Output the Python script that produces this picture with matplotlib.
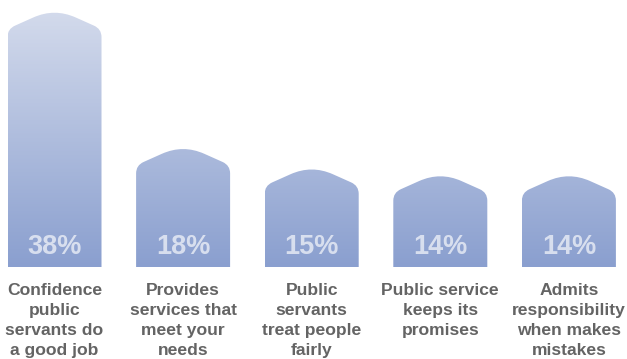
import numpy as np
import matplotlib
matplotlib.use("Agg")
import matplotlib.pyplot as plt
from matplotlib.path import Path
from matplotlib.patches import PathPatch
from matplotlib.colors import LinearSegmentedColormap

# survey results (share of respondents, %)
categories = [
    "Confidence\npublic\nservants do\na good job",
    "Provides\nservices that\nmeet your\nneeds",
    "Public\nservants\ntreat people\nfairly",
    "Public service\nkeeps its\npromises",
    "Admits\nresponsibility\nwhen makes\nmistakes",
]
values = [38, 18, 15, 14, 14]
value_labels = ["38%", "18%", "15%", "14%", "14%"]

W, H, DPI = 627, 359, 100
fig = plt.figure(figsize=(W / DPI, H / DPI), dpi=DPI)
ax = fig.add_axes([0, 0, 1, 1])

# pixel layout -> data limits
spacing_px = 128.6
first_center_px = 54.5
base_px = 267          # bar bottom from top of image
top_px = 8             # peak of tallest bar
px_per_unit = (base_px - top_px) / max(values)
ax.axis("off")

bar_w = 94 / spacing_px
roof_h = 21 / px_per_unit
f_sh = 0.16   # shoulder rounding
f_pk = 0.45   # peak rounding


def house_path(xc, v):
    x0, x1 = xc - bar_w / 2, xc + bar_w / 2
    s = v - roof_h
    half = bar_w / 2
    r_y = 8 / px_per_unit
    verts = [
        (x0, 0), (x0, s - r_y),
        (x0, s), (x0 + f_sh * half, s + f_sh * roof_h),
        (xc - f_pk * half, v - f_pk * roof_h),
        (xc, v), (xc + f_pk * half, v - f_pk * roof_h),
        (x1 - f_sh * half, s + f_sh * roof_h),
        (x1, s), (x1, s - r_y),
        (x1, 0), (x0, 0),
    ]
    codes = [
        Path.MOVETO, Path.LINETO,
        Path.CURVE3, Path.CURVE3,
        Path.LINETO,
        Path.CURVE3, Path.CURVE3,
        Path.LINETO,
        Path.CURVE3, Path.CURVE3,
        Path.LINETO, Path.CLOSEPOLY,
    ]
    return Path(verts, codes)


cmap = LinearSegmentedColormap.from_list("bars", ["#8a9fcf", "#d4dbec"])
grad = np.linspace(0, 1, 256).reshape(-1, 1)

for i, v in enumerate(values):
    patch = PathPatch(house_path(i, v), facecolor="none", edgecolor="none")
    ax.add_patch(patch)
    im = ax.imshow(grad, cmap=cmap, origin="lower", aspect="auto",
                   extent=(i - bar_w / 2, i + bar_w / 2, 0, max(values)),
                   interpolation="bilinear")
    im.set_clip_path(patch)
    ax.text(i, 20 / px_per_unit, value_labels[i], ha="center", va="center",
            fontsize=19.5, fontweight="bold", family="Liberation Sans",
            color="white", alpha=0.65)
    ax.text(i, -16 / px_per_unit, categories[i], ha="center", va="top",
            fontsize=12.6, fontweight="bold", family="Liberation Sans",
            color="#646464", linespacing=1.42)

ax.set_xlim(-first_center_px / spacing_px, (W - first_center_px) / spacing_px)
ax.set_ylim(-(H - base_px) / px_per_unit, max(values) + top_px / px_per_unit)

fig.savefig("out.png", dpi=DPI)
